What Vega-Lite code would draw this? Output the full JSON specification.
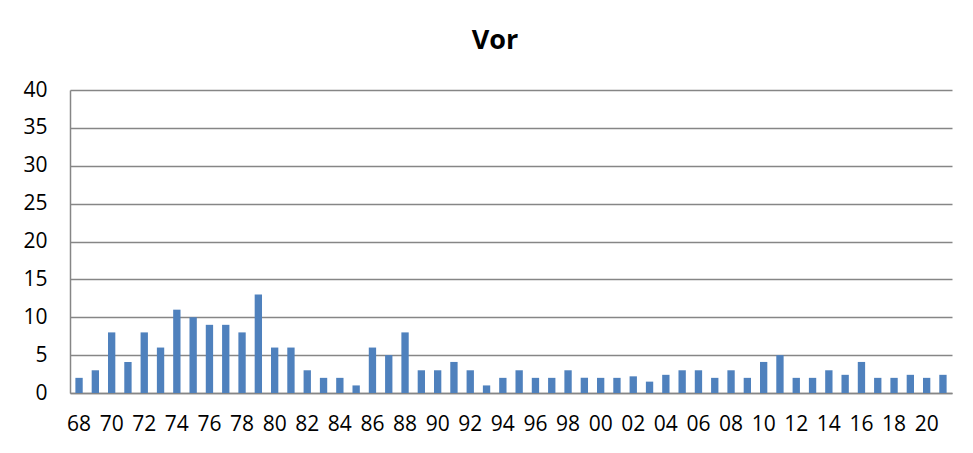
{
  "$schema": "https://vega.github.io/schema/vega-lite/v6.json",
  "autosize": "none",
  "width": 882,
  "height": 303,
  "padding": {"left": 70, "top": 90, "right": 21, "bottom": 60},
  "background": "white",
  "config": {
    "font": "Open Sans",
    "view": {"stroke": null}
  },
  "title": {
    "text": "Vor",
    "fontSize": 27,
    "fontWeight": "bold",
    "font": "Open Sans",
    "color": "#000000",
    "anchor": "middle",
    "dx": -16,
    "offset": 24
  },
  "data": {
    "values": [
      {"yr": "68", "v": 2}, {"yr": "69", "v": 3}, {"yr": "70", "v": 8}, {"yr": "71", "v": 4.1},
      {"yr": "72", "v": 8}, {"yr": "73", "v": 6}, {"yr": "74", "v": 11}, {"yr": "75", "v": 10},
      {"yr": "76", "v": 9}, {"yr": "77", "v": 9}, {"yr": "78", "v": 8}, {"yr": "79", "v": 13},
      {"yr": "80", "v": 6}, {"yr": "81", "v": 6}, {"yr": "82", "v": 3}, {"yr": "83", "v": 2},
      {"yr": "84", "v": 2}, {"yr": "85", "v": 1}, {"yr": "86", "v": 6}, {"yr": "87", "v": 5},
      {"yr": "88", "v": 8}, {"yr": "89", "v": 3}, {"yr": "90", "v": 3}, {"yr": "91", "v": 4.1},
      {"yr": "92", "v": 3}, {"yr": "93", "v": 1}, {"yr": "94", "v": 2}, {"yr": "95", "v": 3},
      {"yr": "96", "v": 2}, {"yr": "97", "v": 2}, {"yr": "98", "v": 3}, {"yr": "99", "v": 2},
      {"yr": "00", "v": 2}, {"yr": "01", "v": 2}, {"yr": "02", "v": 2.2}, {"yr": "03", "v": 1.5},
      {"yr": "04", "v": 2.4}, {"yr": "05", "v": 3}, {"yr": "06", "v": 3}, {"yr": "07", "v": 2},
      {"yr": "08", "v": 3}, {"yr": "09", "v": 2}, {"yr": "10", "v": 4.1}, {"yr": "11", "v": 5},
      {"yr": "12", "v": 2}, {"yr": "13", "v": 2}, {"yr": "14", "v": 3}, {"yr": "15", "v": 2.4},
      {"yr": "16", "v": 4.1}, {"yr": "17", "v": 2}, {"yr": "18", "v": 2}, {"yr": "19", "v": 2.4},
      {"yr": "20", "v": 2}, {"yr": "21", "v": 2.4}
    ]
  },
  "mark": {"type": "bar", "color": "#4F81BD"},
  "encoding": {
    "x": {
      "field": "yr",
      "type": "ordinal",
      "sort": null,
      "scale": {"paddingInner": 0.55, "paddingOuter": 0.33},
      "axis": {
        "title": null,
        "values": ["68","70","72","74","76","78","80","82","84","86","88","90","92","94","96","98","00","02","04","06","08","10","12","14","16","18","20"],
        "labelAngle": 0,
        "labelFontSize": 21,
        "labelColor": "#000000",
        "labelPadding": 20,
        "ticks": false,
        "domainColor": "#868686",
        "domainWidth": 1.5,
        "grid": false
      }
    },
    "y": {
      "field": "v",
      "type": "quantitative",
      "scale": {"domain": [0, 40], "nice": false},
      "axis": {
        "title": null,
        "values": [0, 5, 10, 15, 20, 25, 30, 35, 40],
        "labelFontSize": 21,
        "labelColor": "#000000",
        "labelPadding": 23,
        "ticks": false,
        "domainColor": "#868686",
        "domainWidth": 1.5,
        "grid": true,
        "gridColor": "#868686",
        "gridWidth": 1.5
      }
    }
  }
}
